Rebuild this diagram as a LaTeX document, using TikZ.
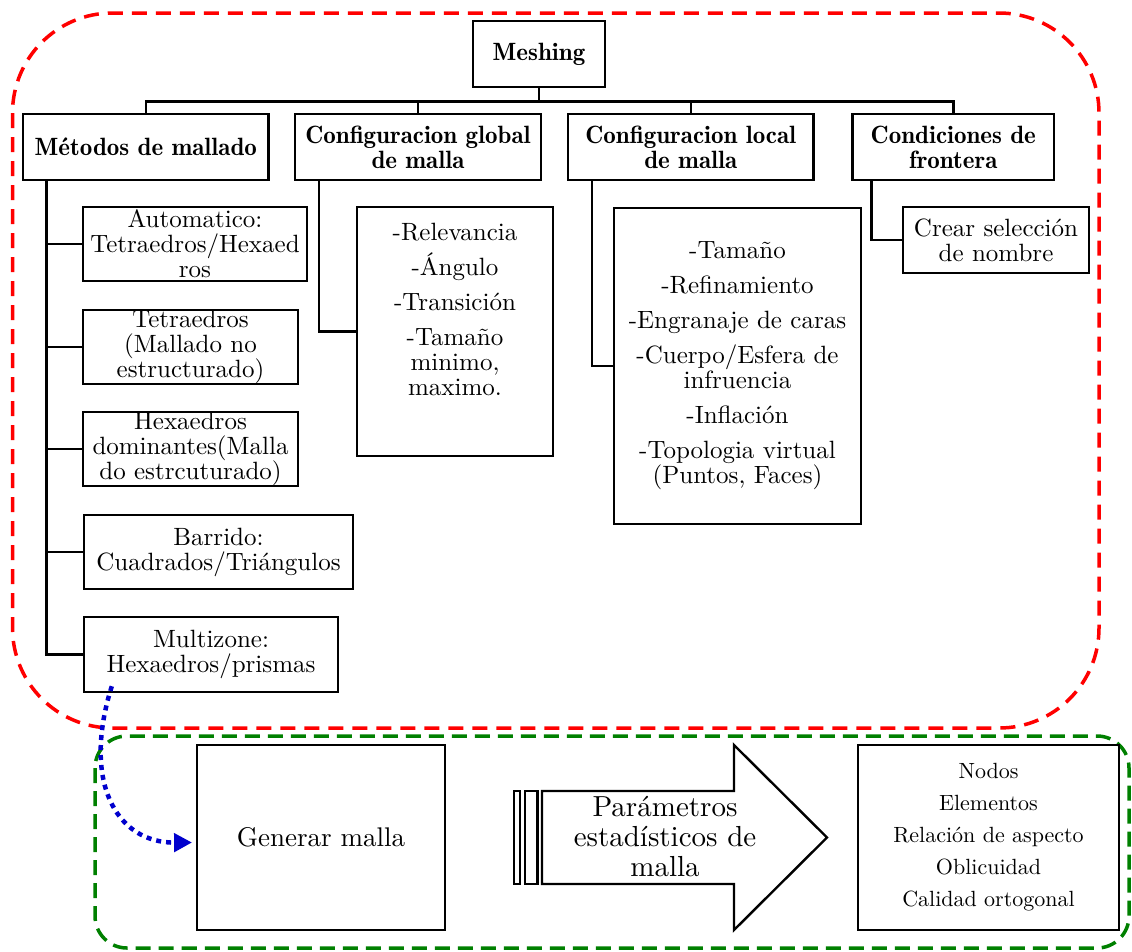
\documentclass[tikz,border=0pt]{standalone}
\usepackage{fontspec}
\setmainfont{lmroman10-regular.otf}[BoldFont=lmromandemi10-regular.otf]
\usetikzlibrary{arrows.meta,calc}
\definecolor{zonered}{RGB}{255,0,0}
\definecolor{zonegreen}{RGB}{0,128,0}
\definecolor{flowblue}{RGB}{0,0,205}
\begin{document}
\begin{tikzpicture}[x=1pt,y=-1pt,
  box/.style={draw,line width=2.4pt,rectangle,inner sep=0pt,align=center},
  head/.style={box,minimum height=66,font=\bfseries\fontsize{25}{25}\selectfont},
  item/.style={box,minimum height=74,font=\fontsize{25}{25}\selectfont},
  body/.style={align=center,inner sep=0pt,font=\fontsize{25}{25}\selectfont},
  link/.style={line width=2.5pt},
  zone/.style={line width=3.5pt,dash pattern=on 15pt off 9pt}]
\useasboundingbox (0,0) rectangle (1132,951);

% dashed regions
\draw[zone,zonered,rounded corners=100pt] (12.5,13) rectangle (1099,728);
\draw[zone,zonegreen,dash pattern=on 15pt off 8pt,rounded corners=32pt] (95,736) rectangle (1129,948);

% tree: root and first level
\node[head,minimum width=132] (mesh) at (539,54) {Meshing};
\node[head,minimum width=245.6] (met) at (145.8,147) {Métodos de mallado};
\node[head,minimum width=246] (cg) at (418,147) {Configuracion global\\de malla};
\node[head,minimum width=245.6] (cl) at (690.8,147) {Configuracion local\\de malla};
\node[head,minimum width=201.4] (cf) at (953.3,147) {Condiciones de\\frontera};
\foreach \c in {met,cg,cl,cf}
  \draw[link] (mesh.south) -- ++(0,13.3) -| (\c.north);

% meshing methods
\node[item,minimum width=224] (auto) at (195,244) {Automatico:\\Tetraedros/Hexaed\\ros};
\node[item,minimum width=215] (tet) at (190.5,347) {Tetraedros\\(Mallado no\\estructurado)};
\node[item,minimum width=215] (hexd) at (190.5,449) {Hexaedros\\dominantes(Malla\\do estrcuturado)};
\node[item,minimum width=269] (barr) at (218.5,552) {Barrido:\\Cuadrados/Triángulos};
\node[item,minimum width=254,minimum height=75] (mz) at (211,654.5) {Multizone:\\Hexaedros/prismas};
\foreach \c in {auto,tet,hexd,barr,mz}
  \draw[link] ([xshift=24.7pt]met.south west) |- (\c.west);

% global settings
\node[box,minimum width=196,minimum height=249] (cgb) at (455,331.5) {};
\node[body] (cgt) at (455,309) {-Relevancia\\[10pt]-Ángulo\\[10pt]-Transición\\[10pt]-Tamaño\\minimo,\\maximo.};
\draw[link] ([xshift=25pt]cg.south west) |- (cgb.west);

% local settings
\node[box,minimum width=247,minimum height=316,font=\fontsize{25}{25}\selectfont] (clb) at (737.5,366)
  {-Tamaño\\[10pt]-Refinamiento\\[10pt]-Engranaje de caras\\[10pt]-Cuerpo/Esfera de\\infruencia\\[10pt]-Inflación\\[10pt]-Topologia virtual\\(Puntos, Faces)};
\draw[link] ([xshift=25pt]cl.south west) |- (clb.west);

% boundary conditions
\node[box,minimum width=186,minimum height=66,font=\fontsize{25}{25}\selectfont] (cr) at (996,240) {Crear selección\\de nombre};
\draw[link] ([xshift=20pt]cf.south west) |- (cr.west);

% mesh generation and statistics
\node[box,minimum width=247.5,minimum height=185,font=\fontsize{27}{30}\selectfont] (gen) at (321,837.5) {Generar malla};
\draw[line width=2.2pt] (514,791) rectangle (520,884);
\draw[line width=2.2pt] (525,791) rectangle (537.5,884);
\draw[line width=2.4pt,line join=miter] (542,791) -- (734,791) -- (734,745) -- (827,837.5)
  -- (734,930) -- (734,884) -- (542,884) -- cycle;
\node[align=center,inner sep=0pt,font=\fontsize{29}{30}\selectfont] (par) at (665,837) {Parámetros\\estadísticos de\\malla};
\node[box,minimum width=261,minimum height=185,font=\fontsize{22}{32}\selectfont] (res) at (988.5,837.5)
  {Nodos\\Elementos\\Relación de aspecto\\Oblicuidad\\Calidad ortogonal};

% flow from the method list to mesh generation
\coordinate (bs) at ([xshift=29pt,yshift=7pt]mz.south west);
\draw[flowblue,line width=4.5pt,dash pattern=on 5pt off 5pt,-{Triangle[length=18pt,width=18pt]}]
  (bs) .. controls (82,780) and (115,843) .. ([xshift=-4pt,yshift=-5pt]gen.west);
\end{tikzpicture}
\end{document}
